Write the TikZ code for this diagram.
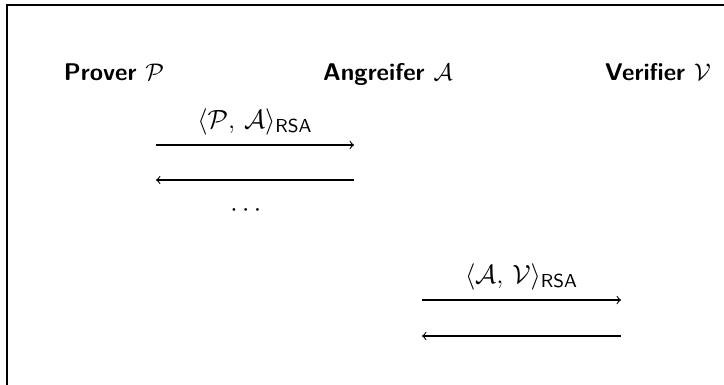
\documentclass[tikz,border=0pt]{standalone}
\usepackage{amsmath}
\renewcommand{\familydefault}{\sfdefault}
\begin{document}
\begin{tikzpicture}[x=0.016cm,y=-0.016cm,
  every node/.style={font=\fontsize{11}{13}\selectfont},
  party/.style={font=\fontsize{11}{13}\selectfont\sffamily\bfseries,anchor=base},
  lbl/.style={font=\fontsize{12.2}{14}\selectfont,anchor=base,yshift=7.6pt},
  msg/.style={->,line width=0.5pt}]
\useasboundingbox (0,0) rectangle (724,385);
\coordinate (tl) at (7,5);
\coordinate (tr) at (724,5);
\coordinate (bl) at (7,385);
\draw[line width=0.6pt] (tr) -- (tl) -- (bl);
\node[party] (P) at (114,80) {Prover $\mathcal{P}$};
\node[party] (A) at (388,80) {Angreifer $\mathcal{A}$};
\node[party] (V) at (658,80) {Verifier $\mathcal{V}$};
\coordinate (a1s) at (156,145); \coordinate (a1e) at (354,145);
\coordinate (a2s) at (354,180); \coordinate (a2e) at (156,180);
\coordinate (a3s) at (422,300); \coordinate (a3e) at (621,300);
\coordinate (a4s) at (621,336); \coordinate (a4e) at (422,336);
\draw[msg] (a1s) -- node[lbl] (l1) {$\langle\mathcal{P},\,\mathcal{A}\rangle_{\textsf{RSA}}$} (a1e);
\draw[msg] (a2s) -- (a2e);
\node[font=\fontsize{12}{14}\selectfont] (dots) at (248,211) {$\cdots$};
\draw[msg] (a3s) -- node[lbl] (l3) {$\langle\mathcal{A},\,\mathcal{V}\rangle_{\textsf{RSA}}$} (a3e);
\draw[msg] (a4s) -- (a4e);
\end{tikzpicture}
\end{document}
